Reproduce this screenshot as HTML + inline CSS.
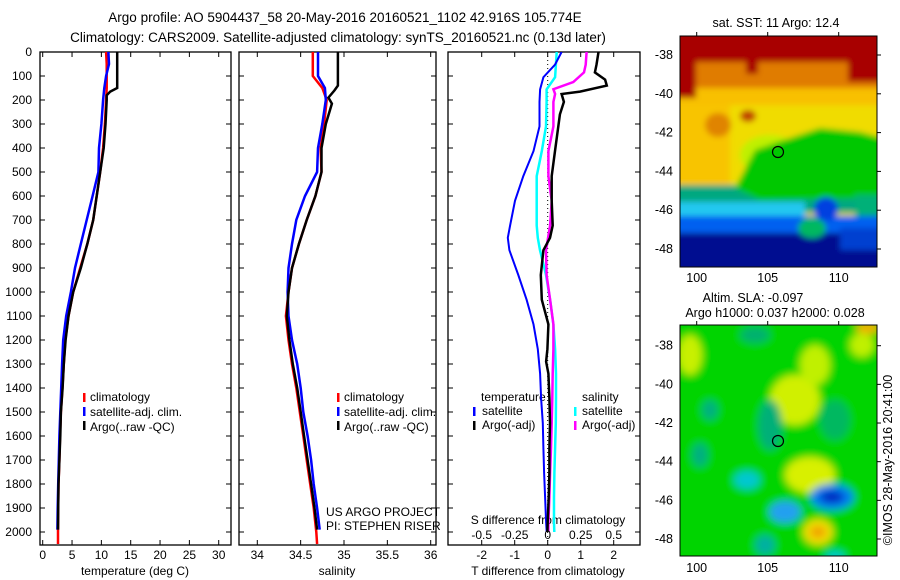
<!DOCTYPE html>
<html><head><meta charset="utf-8"><style>
html,body{margin:0;padding:0;background:#fff;}
svg{display:block;font-family:"Liberation Sans",sans-serif;}
text{fill:#000;}
</style></head><body>
<svg id="fig" width="900" height="580" viewBox="0 0 900 580">
<defs>
<filter id="b1"><feGaussianBlur stdDeviation="3"/></filter>
<filter id="b2"><feGaussianBlur stdDeviation="4"/></filter>
<clipPath id="c1"><rect x="680" y="36" width="197" height="231"/></clipPath>
<clipPath id="c2"><rect x="680" y="325" width="197" height="231"/></clipPath>
<clipPath id="cp1"><rect x="40" y="52" width="191" height="493"/></clipPath>
<clipPath id="cp2"><rect x="239" y="52" width="197" height="493"/></clipPath>
<clipPath id="cp3"><rect x="448" y="52" width="192" height="493"/></clipPath>
</defs>
<text x="345" y="22" font-size="13.5" text-anchor="middle">Argo profile: AO 5904437_58 20-May-2016 20160521_1102 42.916S 105.774E</text>
<text x="338" y="42" font-size="13.5" text-anchor="middle">Climatology: CARS2009. Satellite-adjusted climatology: synTS_20160521.nc (0.13d later)</text>

<!-- SST map -->
<g>
<g clip-path="url(#c1)"><g filter="url(#b1)">
<rect x="670" y="26" width="220" height="250" fill="#f0dc00"/>
<rect x="670" y="85" width="220" height="20" fill="#f8c000"/>
<rect x="670" y="105" width="60" height="85" fill="#f8c400"/>
<rect x="670" y="58" width="220" height="30" fill="#e07c00"/>
<rect x="670" y="26" width="220" height="36" fill="#a80000"/>
<rect x="670" y="26" width="26" height="72" fill="#a80000"/>
<rect x="848" y="26" width="40" height="56" fill="#a80000"/>
<rect x="746" y="50" width="12" height="24" fill="#a80000"/>
<rect x="810" y="50" width="20" height="12" fill="#a80000"/>
<ellipse cx="718" cy="125" rx="13" ry="12" fill="#e08400"/>
<ellipse cx="748" cy="116" rx="8" ry="6" fill="#c04000"/>
<ellipse cx="770" cy="155" rx="30" ry="20" fill="#c0f000"/>
<rect x="670" y="185" width="220" height="28" fill="#00a880"/>
<path d="M755,150 L790,138 L820,128 L860,132 L890,140 V198 L760,200 L735,188 Z" fill="#00c800"/>
<rect x="855" y="195" width="35" height="45" fill="#00b078"/>
<rect x="670" y="202" width="135" height="18" fill="#20c8f0"/>
<rect x="670" y="216" width="220" height="24" fill="#0060f0"/>
<rect x="670" y="233" width="220" height="40" fill="#000c90"/>
<rect x="840" y="228" width="50" height="22" fill="#0040d0"/>
<ellipse cx="826" cy="209" rx="12" ry="12" fill="#0040e0"/>
<ellipse cx="812" cy="228" rx="14" ry="10" fill="#00b860"/>
</g></g>
<rect x="680" y="36" width="197" height="231" fill="none" stroke="#000" stroke-width="1"/>
<circle cx="778" cy="152" r="5.5" fill="none" stroke="#000" stroke-width="1.2"/>
<text x="776" y="27" font-size="12.5" text-anchor="middle">sat. SST: 11 Argo: 12.4</text>
</g>

<!-- SLA map -->
<g>
<g clip-path="url(#c2)"><g filter="url(#b2)">
<rect x="670" y="315" width="220" height="250" fill="#00d400"/>
<ellipse cx="690" cy="355" rx="12" ry="20" fill="#c8f000"/>
<ellipse cx="795" cy="400" rx="25" ry="25" fill="#d0f000"/>
<ellipse cx="815" cy="365" rx="15" ry="20" fill="#c0f000"/>
<ellipse cx="810" cy="475" rx="25" ry="18" fill="#d8f000"/>
<ellipse cx="862" cy="345" rx="12" ry="12" fill="#c0f000"/>
<ellipse cx="868" cy="328" rx="12" ry="6" fill="#f0b000"/>
<ellipse cx="755" cy="335" rx="15" ry="8" fill="#00b070"/>
<ellipse cx="770" cy="425" rx="12" ry="25" fill="#00b078"/>
<ellipse cx="710" cy="410" rx="8" ry="10" fill="#00b080"/>
<ellipse cx="700" cy="455" rx="8" ry="12" fill="#00b080"/>
<ellipse cx="835" cy="420" rx="15" ry="20" fill="#00b860"/>
<ellipse cx="747" cy="480" rx="13" ry="9" fill="#00c8d0"/>
<ellipse cx="832" cy="497" rx="22" ry="13" fill="#0080f0"/>
<ellipse cx="832" cy="497" rx="12" ry="6" fill="#0020c0"/>
<ellipse cx="785" cy="512" rx="16" ry="11" fill="#20a0f0"/>
<ellipse cx="818" cy="532" rx="15" ry="13" fill="#f0e000"/>
<ellipse cx="818" cy="532" rx="8" ry="6" fill="#f0a000"/>
<ellipse cx="765" cy="545" rx="10" ry="10" fill="#00b0a0"/>
<ellipse cx="835" cy="556" rx="10" ry="5" fill="#00c8d0"/>
</g></g>
<rect x="680" y="325" width="197" height="231" fill="none" stroke="#000" stroke-width="1"/>
<circle cx="778" cy="441" r="5.5" fill="none" stroke="#000" stroke-width="1.2"/>
<text x="753" y="302" font-size="12.5" text-anchor="middle">Altim. SLA: -0.097</text>
<text x="775" y="317" font-size="12.5" text-anchor="middle">Argo h1000: 0.037 h2000: 0.028</text>
<text transform="translate(892,460) rotate(-90)" font-size="12.5" text-anchor="middle">©IMOS 28-May-2016 20:41:00</text>
</g>

<text x="90" y="401" font-size="12">climatology</text>
<text x="90" y="416" font-size="12">satellite-adj. clim.</text>
<text x="90" y="431" font-size="12">Argo(..raw -QC)</text>
<rect x="83" y="393" width="2.5" height="9" fill="#f00"/><rect x="83" y="407" width="2.5" height="9" fill="#00f"/><rect x="83" y="421" width="2.5" height="9" fill="#000"/>
<text x="344" y="401" font-size="12">climatology</text>
<text x="344" y="416" font-size="12">satellite-adj. clim.</text>
<text x="344" y="431" font-size="12">Argo(..raw -QC)</text>
<rect x="337" y="393" width="2.5" height="9" fill="#f00"/><rect x="337" y="407" width="2.5" height="9" fill="#00f"/><rect x="337" y="421" width="2.5" height="9" fill="#000"/>
<text x="326" y="516" font-size="12">US ARGO PROJECT</text>
<text x="326" y="530" font-size="12">PI: STEPHEN RISER</text>
<text x="481" y="401" font-size="12">temperature</text>
<text x="482" y="415" font-size="12">satellite</text>
<text x="482" y="429" font-size="12">Argo(-adj)</text>
<rect x="473" y="407" width="2.5" height="9" fill="#00f"/><rect x="473" y="421" width="2.5" height="9" fill="#000"/>
<text x="582" y="401" font-size="12">salinity</text>
<text x="582" y="415" font-size="12">satellite</text>
<text x="582" y="429" font-size="12">Argo(-adj)</text>
<rect x="574" y="407" width="2.5" height="9" fill="#0ff"/><rect x="574" y="421" width="2.5" height="9" fill="#f0f"/>
<text x="548" y="524" font-size="12" text-anchor="middle">S difference from climatology</text>
<g id="plots"></g>
</svg>
<script>
const NS='http://www.w3.org/2000/svg';
// depth grid
const depthTicks=[0,100,200,300,400,500,600,700,800,900,1000,1100,1200,1300,1400,1500,1600,1700,1800,1900,2000];
const tTicks=[0,5,10,15,20,25,30];
const sTicks=[34,34.5,35,35.5,36];
const dTTicks=[-2,-1,0,1,2];
const dSTicks=[-0.5,-0.25,0,0.25,0.5];
// temperature profiles
const stdDepth=[0,50,100,150,200,300,400,500,600,700,800,900,1000,1100,1200,1300,1400,1500,1600,1700,1800,1900,2000,2050];
const climT=[10.8,10.9,10.9,10.9,10.8,10.6,10.3,9.8,9.2,8.6,7.6,6.4,5.2,4.4,3.85,3.6,3.35,3.1,2.95,2.85,2.7,2.65,2.6,2.6];
const satDepth=[0,50,100,150,200,300,400,500,600,700,800,900,1000,1100,1200,1300,1400,1500,1600,1700,1800,1900,1990];
const satT=[11.2,11.3,10.8,10.5,10.3,10.0,9.6,9.5,8.5,7.5,6.5,5.5,4.8,4.0,3.5,3.3,3.15,3.0,2.85,2.75,2.65,2.55,2.5];
const argoDepth=[0,100,150,165,180,200,300,400,500,600,700,800,900,1000,1100,1200,1300,1400,1500,1600,1700,1800,1900,1990];
const argoT=[12.7,12.7,12.7,11.5,10.9,10.9,10.7,10.4,9.8,9.2,8.6,7.6,6.5,5.2,4.4,3.9,3.6,3.4,3.1,3.0,2.85,2.7,2.65,2.6];
// salinity profiles
const climS=[34.64,34.64,34.64,34.75,34.80,34.77,34.73,34.74,34.67,34.57,34.48,34.40,34.36,34.33,34.36,34.40,34.45,34.49,34.53,34.57,34.61,34.65,34.68,34.69];
const satS=[34.70,34.70,34.70,34.78,34.79,34.75,34.70,34.69,34.55,34.45,34.40,34.36,34.35,34.36,34.40,34.46,34.50,34.53,34.58,34.62,34.65,34.69,34.72];
const argoSDepth=[0,100,140,160,190,215,300,400,500,600,700,800,900,1000,1100,1200,1300,1400,1500,1600,1700,1800,1900,1990];
const argoS=[34.93,34.93,34.93,34.89,34.82,34.86,34.79,34.74,34.74,34.67,34.57,34.48,34.40,34.36,34.34,34.37,34.41,34.46,34.50,34.54,34.58,34.62,34.66,34.69];
// differences
const diffDepth=[0,53,105,156,208,310,413,517,620,723,774,826,929,1032,1135,1238,1340,1443,1546,1650,1752,1855,1958,2000];
const satTd=[0.42,0.22,-0.13,-0.23,-0.25,-0.25,-0.43,-0.74,-0.99,-1.14,-1.21,-1.16,-0.89,-0.64,-0.43,-0.30,-0.23,-0.2,-0.15,-0.13,-0.11,-0.08,-0.05,-0.03];
const satSd=[0.068,0.062,0.056,-0.008,-0.008,-0.013,-0.045,-0.083,-0.083,-0.083,-0.075,-0.058,-0.013,0.018,0.043,0.056,0.063,0.063,0.061,0.056,0.051,0.048,0.048,0.05];
const argoTdDepth=[0,53,85,115,140,165,175,208,260,310,413,517,620,723,774,826,929,1032,1135,1238,1290,1340,1443,1546,1650,1752,1855,1958,2000];
const argoTd=[1.54,1.48,1.43,1.74,1.79,0.98,0.42,0.49,0.37,0.32,0.22,0.12,0.12,0.15,0.07,-0.13,-0.21,-0.18,0.02,-0.01,-0.05,0.02,0.05,0.07,0.05,0.05,0.03,0.0,-0.01];
const argoSdDepth=[0,53,85,125,155,175,208,310,413,517,620,723,826,929,1032,1135,1238,1340,1443,1546,1650,1752,1855,1958,2000];
const argoSd=[0.295,0.288,0.275,0.194,0.043,0.056,0.043,0.043,0.005,0.005,0.03,0.018,-0.013,-0.008,0.018,0.043,0.043,0.038,0.035,0.03,0.025,0.018,0.013,0.005,0.005];
// map axes
const mapLats=[-38,-40,-42,-44,-46,-48];
const mapLons=[100,105,110];

const yD=d=>52+d*0.24;
const xT=t=>42.7+t*5.867;
const xS=s=>257.3+(s-34)*86.7;
const xdT=t=>547.7+t*33;
const xdS=s=>547.7+s*132;
const lat1=l=>55+(-38-l)*19.4;
const lat2=l=>345.7+(-38-l)*19.33;
const lon=l=>696.7+(l-100)*14.2;

const root=document.getElementById('plots');
function mk(tag,attrs,parent){const e=document.createElementNS(NS,tag);for(const k in attrs)e.setAttribute(k,attrs[k]);(parent||root).appendChild(e);return e;}
function txt(x,y,s,anchor,size){const e=mk('text',{x:x,y:y,'font-size':size||12,'text-anchor':anchor||'middle'});e.textContent=s;return e;}

function panel(x0,x1,name){
  const g=mk('g',{});
  
  
  mk('rect',{x:x0,y:52,width:x1-x0,height:493,fill:'none',stroke:'#000','stroke-width':1.3},g);
  depthTicks.forEach(d=>{
    mk('line',{x1:x0,x2:x0+5,y1:yD(d),y2:yD(d),stroke:'#000'},g);
    mk('line',{x1:x1-5,x2:x1,y1:yD(d),y2:yD(d),stroke:'#000'},g);
  });
  return g;
}
function line(xs,ds,fx,color,w,g,name){
  const pts=xs.map((v,i)=>fx(v).toFixed(1)+','+yD(ds[i]).toFixed(1)).join(' ');
  const p=mk('polyline',{points:pts,fill:'none',stroke:color,'stroke-width':w,'stroke-linejoin':'miter'},g);
  
  
}
// panel 1
const g1=panel(40,231,'temperature-panel');
depthTicks.forEach(d=>{const t=txt(32,yD(d)+4,String(d),'end',12);

});
tTicks.forEach(t=>{mk('line',{x1:xT(t),x2:xT(t),y1:545,y2:540,stroke:'#000'},g1);mk('line',{x1:xT(t),x2:xT(t),y1:52,y2:57,stroke:'#000'},g1);
const e=txt(xT(t),559,String(t));

});
const c1=mk('g',{'clip-path':'url(#cp1)'},g1);
line(climT,stdDepth,xT,'#f00',2.5,c1,'temperature-climatology-line');
line(satT,satDepth,xT,'#00f',2.5,c1,'temperature-satellite-line');
line(argoT,argoDepth,xT,'#000',2.5,c1,'temperature-argo-line');
const l1=txt(135,575,'temperature (deg C)');


// panel 2
const g2=panel(239,436,'salinity-panel');
sTicks.forEach(s=>{mk('line',{x1:xS(s),x2:xS(s),y1:545,y2:540,stroke:'#000'},g2);mk('line',{x1:xS(s),x2:xS(s),y1:52,y2:57,stroke:'#000'},g2);
const e=txt(xS(s),559,String(s));

});
const c2=mk('g',{'clip-path':'url(#cp2)'},g2);
line(climS,stdDepth,xS,'#f00',2.5,c2,'salinity-climatology-line');
line(satS,satDepth,xS,'#00f',2.5,c2,'salinity-satellite-line');
line(argoS,argoSDepth,xS,'#000',2.5,c2,'salinity-argo-line');
const l2=txt(337,575,'salinity');


// panel 3
const g3=panel(448,640,'difference-panel');
dTTicks.forEach(t=>{mk('line',{x1:xdT(t),x2:xdT(t),y1:545,y2:540,stroke:'#000'},g3);mk('line',{x1:xdT(t),x2:xdT(t),y1:52,y2:57,stroke:'#000'},g3);
const e=txt(xdT(t),559,String(t));

});
dSTicks.forEach(s=>{const e=txt(xdS(s),539,String(s));

});
mk('line',{x1:xdT(0),x2:xdT(0),y1:52,y2:545,stroke:'#000','stroke-dasharray':'1,3'},g3);
const c3=mk('g',{'clip-path':'url(#cp3)'},g3);
line(satSd,diffDepth,xdS,'#0ff',2.5,c3,'salinity-satellite-diff-line');
line(argoSd,argoSdDepth,xdS,'#f0f',2.5,c3,'salinity-argo-diff-line');
line(satTd,diffDepth,xdT,'#00f',2,c3,'temperature-satellite-diff-line');
line(argoTd,argoTdDepth,xdT,'#000',2.5,c3,'temperature-argo-diff-line');
const l3=txt(548,575,'T difference from climatology');


// map axes
mapLats.forEach(l=>{
  const a=txt(673,lat1(l)+4,String(l),'end',12.5);
  
  
  mk('line',{x1:877,x2:881,y1:lat1(l),y2:lat1(l),stroke:'#000'});
  const b=txt(673,lat2(l)+4,String(l),'end',12.5);
  
  
  mk('line',{x1:877,x2:881,y1:lat2(l),y2:lat2(l),stroke:'#000'});
});
mapLons.forEach(l=>{
  const a=txt(lon(l),282,String(l),'middle',12.5);
  
  
  mk('line',{x1:lon(l),x2:lon(l),y1:32,y2:36,stroke:'#000'});
  const b=txt(lon(l),572,String(l),'middle',12.5);
  
  
  mk('line',{x1:lon(l),x2:lon(l),y1:321,y2:325,stroke:'#000'});
});
</script>
</body></html>
